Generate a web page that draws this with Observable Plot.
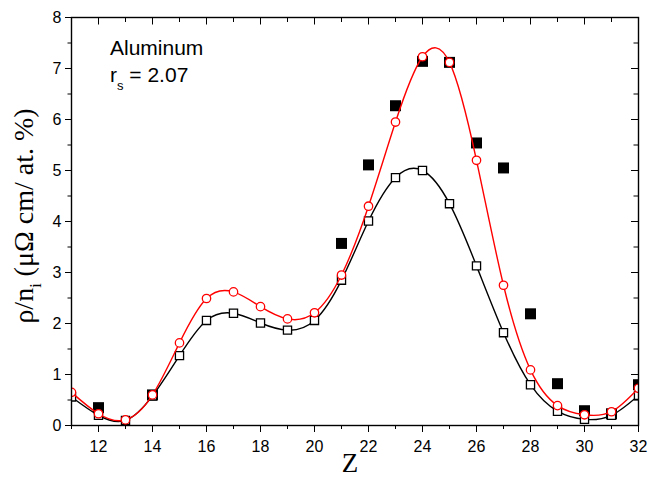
<!DOCTYPE html>
<html><head><meta charset="utf-8">
<script src="https://cdn.jsdelivr.net/npm/d3@7"></script>
<script src="https://cdn.jsdelivr.net/npm/@observablehq/plot@0.6"></script>
<style>body{margin:0;background:#fff}</style>
</head><body><div id="chart"></div>
<script>
// ---- data ----
const Z = [11,12,13,14,15,16,17,18,19,20,21,22,23,24,25,26,27,28,29,30,31,32];
const modelA = [0.56,0.20,0.10,0.58,1.37,2.06,2.20,2.01,1.87,2.06,2.85,4.01,4.86,5.00,4.35,3.13,1.82,0.80,0.28,0.12,0.20,0.59]; // open squares
const modelB = [0.65,0.23,0.11,0.60,1.62,2.49,2.62,2.33,2.09,2.21,2.95,4.30,5.95,7.23,7.12,5.20,2.75,1.09,0.39,0.21,0.27,0.73]; // red circles
const exptZ = [12,14,21,22,23,24,25,26,27,28,29,30,31,32];
const exptVal = [0.35,0.60,3.57,5.11,6.27,7.14,7.12,5.54,5.05,2.19,0.82,0.29,0.23,0.80]; // filled squares
const xMajorTicks = [12,14,16,18,20,22,24,26,28,30,32];
const xMinorTicks = [11,13,15,17,19,21,23,25,27,29,31];
const yMajorTicks = [0,1,2,3,4,5,6,7,8];
const yMinorTicks = [0.5,1.5,2.5,3.5,4.5,5.5,6.5,7.5];

const A = Z.map((z,i)=>({z, v: modelA[i]}));
const B = Z.map((z,i)=>({z, v: modelB[i]}));
const E = exptZ.map((z,i)=>({z, v: exptVal[i]}));

const W=648, H=478, mL=71, mR=10, mT=17, mB=53;
const innerW = W-mL-mR, innerH = H-mT-mB;

const svg = Plot.plot({
  width: W, height: H,
  marginLeft: mL, marginRight: mR, marginTop: mT, marginBottom: mB,
  x: {domain: [11, 32]},
  y: {domain: [0, 8]},
  style: {fontFamily: "'Liberation Sans', Arial, sans-serif", fontSize: "16px", color: "black", background: "white"},
  marks: [
    Plot.axisX(xMajorTicks, {tickSize: 7, tickPadding: 8, label: null, fontSize: 16, tickFormat: "d"}),
    Plot.axisX(xMinorTicks, {tickSize: 4, tickFormat: () => "", label: null}),
    Plot.axisY(yMajorTicks, {tickSize: 6, tickPadding: 4, label: null, fontSize: 16, tickFormat: "d"}),
    Plot.axisY(yMinorTicks, {tickSize: 3.5, tickFormat: () => "", label: null}),
    Plot.tickX(xMajorTicks, {x: d => d, insetBottom: innerH - 7.5, stroke: "black"}),
    Plot.tickX(xMinorTicks, {x: d => d, insetBottom: innerH - 5, stroke: "black"}),
    Plot.tickY(yMajorTicks, {y: d => d, insetLeft: innerW - 7, stroke: "black"}),
    Plot.tickY(yMinorTicks, {y: d => d, insetLeft: innerW - 4.5, stroke: "black"}),
    Plot.dot(E, {x: "z", y: "v", symbol: "square", r: 6.2, fill: "black", stroke: "none", clip: true}),
    Plot.line(A, {x: "z", y: "v", curve: "natural", stroke: "black", strokeWidth: 1.4, clip: true}),
    Plot.dot(A, {x: "z", y: "v", symbol: "square", r: 4.6, fill: "white", stroke: "black", strokeWidth: 1.3, clip: true}),
    Plot.line(B, {x: "z", y: "v", curve: "natural", stroke: "#ff0000", strokeWidth: 1.4, clip: true}),
    Plot.dot(B, {x: "z", y: "v", r: 4.2, fill: "white", stroke: "#ff0000", strokeWidth: 1.3, clip: true}),
    Plot.frame({stroke: "black", strokeWidth: 1.4})
  ]
});

const s = d3.select(svg);
// annotation
const ann = s.append("g").attr("font-family", "'Liberation Sans', Arial, sans-serif").attr("fill", "black").attr("text-anchor", "start");
ann.append("text").attr("x", 110).attr("y", 55).attr("font-size", 21).text("Aluminum");
const t2 = ann.append("text").attr("x", 110).attr("y", 82).attr("font-size", 21);
t2.append("tspan").text("r");
t2.append("tspan").attr("font-size", 13).attr("dy", 8).text("s");
t2.append("tspan").attr("dy", -8).text(" = 2.07");

// axis titles (serif)
const yl = s.append("text")
  .attr("transform", "translate(33,216) rotate(-90)")
  .attr("text-anchor", "middle")
  .attr("font-family", "'Liberation Serif', 'Times New Roman', serif")
  .attr("font-size", 28).attr("fill", "black");
yl.append("tspan").text("ρ/n");
yl.append("tspan").attr("font-size", 16).attr("dy", 8).text("i");
yl.append("tspan").attr("dy", -8).text(" (μΩ cm/ at. %)");

s.append("text").attr("x", 350).attr("y", 472).attr("text-anchor", "middle")
  .attr("font-family", "'Liberation Serif', 'Times New Roman', serif")
  .attr("font-size", 27).attr("fill", "black").text("Z");

document.getElementById("chart").appendChild(svg);
</script>
</body></html>
